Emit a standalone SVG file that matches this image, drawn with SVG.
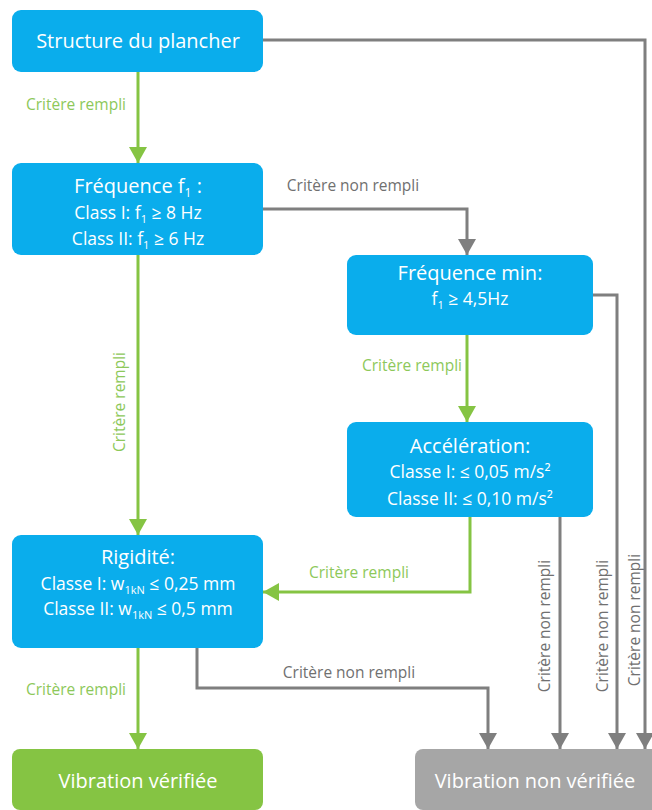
<svg xmlns="http://www.w3.org/2000/svg" width="652" height="810" viewBox="0 0 652 810">
<defs>
<marker id="ag" markerUnits="userSpaceOnUse" markerWidth="16" markerHeight="18" refX="16" refY="9" orient="auto"><path d="M0,0 L16,9 L0,18 z" fill="#85C443"/></marker>
<marker id="ay" markerUnits="userSpaceOnUse" markerWidth="16" markerHeight="18" refX="16" refY="9" orient="auto"><path d="M0,0 L16,9 L0,18 z" fill="#7F7F7F"/></marker>
</defs>
<style>
.box{fill:#0AADEC}
.ok{fill:#85C443}
.ko{fill:#A6A6A6}
.t{font-family:"Open Sans","Noto Sans",sans-serif;fill:#fff;text-anchor:middle}
.h{font-size:20px}
.s{font-size:17.5px}
.g{fill:none;stroke:#85C443;stroke-width:3;marker-end:url(#ag)}
.y{fill:none;stroke:#7F7F7F;stroke-width:3;marker-end:url(#ay)}
.lg{font-family:"Open Sans","Noto Sans",sans-serif;font-size:15.5px;fill:#8DC85A;text-anchor:middle}
.ly{font-family:"Open Sans","Noto Sans",sans-serif;font-size:15.5px;fill:#707070;text-anchor:middle}
</style>
<rect width="652" height="810" fill="#fff"/>
<g id="connectors">
<path class="g" d="M138,72 V163"/>
<text class="lg" x="76" y="110">Critère rempli</text>
<path class="y" d="M263,40 H645 V749"/>
<text class="ly" transform="translate(640,620) rotate(-90)">Critère non rempli</text>
<path class="y" d="M263,209 H467 V255"/>
<text class="ly" x="353" y="191">Critère non rempli</text>
<path class="g" d="M138,255 V535"/>
<text class="lg" transform="translate(125,402) rotate(-90)">Critère rempli</text>
<path class="g" d="M467,335 V422"/>
<text class="lg" x="412" y="371">Critère rempli</text>
<path class="y" d="M593,295 H617 V749"/>
<text class="ly" transform="translate(608,626) rotate(-90)">Critère non rempli</text>
<path class="y" d="M560,517 V749"/>
<text class="ly" transform="translate(550,626) rotate(-90)">Critère non rempli</text>
<path class="g" d="M470,517 V592 H263"/>
<text class="lg" x="359" y="578">Critère rempli</text>
<path class="y" d="M197,648 V688 H488 V749"/>
<text class="ly" x="349" y="678">Critère non rempli</text>
<path class="g" d="M138,648 V749"/>
<text class="lg" x="76" y="695">Critère rempli</text>
</g>
<g id="structure">
<rect class="box" x="12" y="10" width="251" height="62" rx="9"/>
<text class="t h" x="138" y="48">Structure du plancher</text>
</g>
<g id="frequence">
<rect class="box" x="12" y="163" width="251" height="92" rx="9"/>
<text class="t h" x="138" y="193">Fréquence f<tspan font-size="12" dy="4">1</tspan><tspan dy="-4"> :</tspan></text>
<text class="t s" x="138" y="219">Class I: f<tspan font-size="11" dy="4">1</tspan><tspan dy="-4"> ≥ 8 Hz</tspan></text>
<text class="t s" x="138" y="245">Class II: f<tspan font-size="11" dy="4">1</tspan><tspan dy="-4"> ≥ 6 Hz</tspan></text>
</g>
<g id="frequence-min">
<rect class="box" x="347" y="255" width="246" height="80" rx="9"/>
<text class="t h" x="470" y="280">Fréquence min:</text>
<text class="t s" x="470" y="305">f<tspan font-size="11" dy="4">1</tspan><tspan dy="-4"> ≥ 4,5Hz</tspan></text>
</g>
<g id="acceleration">
<rect class="box" x="347" y="422" width="246" height="95" rx="9"/>
<text class="t h" x="470" y="453">Accélération:</text>
<text class="t s" x="470" y="478">Classe I: ≤ 0,05 m/s²</text>
<text class="t s" x="470" y="505">Classe II: ≤ 0,10 m/s²</text>
</g>
<g id="rigidite">
<rect class="box" x="12" y="535" width="251" height="113" rx="9"/>
<text class="t h" x="138" y="564">Rigidité:</text>
<text class="t s" x="138" y="590">Classe I: w<tspan font-size="11" dy="4">1kN</tspan><tspan dy="-4"> ≤ 0,25 mm</tspan></text>
<text class="t s" x="138" y="615">Classe II: w<tspan font-size="11" dy="4">1kN</tspan><tspan dy="-4"> ≤ 0,5 mm</tspan></text>
</g>
<g id="vibration-verifiee">
<rect class="ok" x="12" y="749" width="251" height="61" rx="8"/>
<text class="t h" x="138" y="788">Vibration vérifiée</text>
</g>
<g id="vibration-non-verifiee">
<rect class="ko" x="415" y="749" width="245" height="61" rx="8"/>
<text class="t h" x="535" y="788">Vibration non vérifiée</text>
</g>
</svg>
